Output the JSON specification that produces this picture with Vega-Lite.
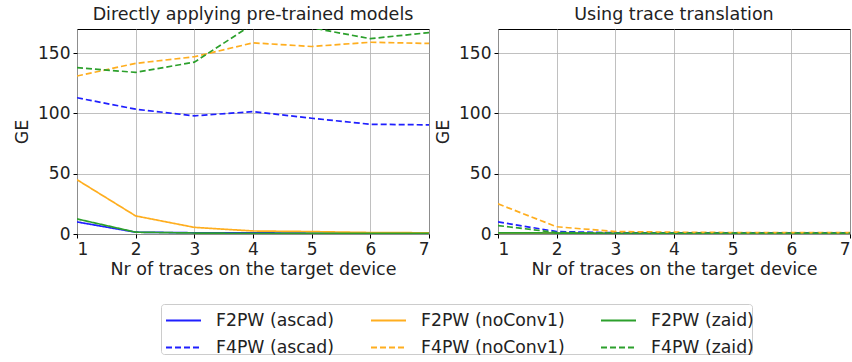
{
  "$schema": "https://vega.github.io/schema/vega-lite/v6.json",
  "padding": {"left": 13, "top": 5, "right": 0, "bottom": 0},
  "data": {"values": [
    {"panel": "A", "series": "F2PW (ascad)", "x": 1, "ge": 10},
    {"panel": "A", "series": "F2PW (ascad)", "x": 2, "ge": 1.5},
    {"panel": "A", "series": "F2PW (ascad)", "x": 3, "ge": 1},
    {"panel": "A", "series": "F2PW (ascad)", "x": 4, "ge": 1},
    {"panel": "A", "series": "F2PW (ascad)", "x": 5, "ge": 0.6},
    {"panel": "A", "series": "F2PW (ascad)", "x": 6, "ge": 0.5},
    {"panel": "A", "series": "F2PW (ascad)", "x": 7, "ge": 0.5},
    {"panel": "A", "series": "F2PW (noConv1)", "x": 1, "ge": 45},
    {"panel": "A", "series": "F2PW (noConv1)", "x": 2, "ge": 15},
    {"panel": "A", "series": "F2PW (noConv1)", "x": 3, "ge": 5.5},
    {"panel": "A", "series": "F2PW (noConv1)", "x": 4, "ge": 2.5},
    {"panel": "A", "series": "F2PW (noConv1)", "x": 5, "ge": 2},
    {"panel": "A", "series": "F2PW (noConv1)", "x": 6, "ge": 1.2},
    {"panel": "A", "series": "F2PW (noConv1)", "x": 7, "ge": 1},
    {"panel": "A", "series": "F2PW (zaid)", "x": 1, "ge": 12.5},
    {"panel": "A", "series": "F2PW (zaid)", "x": 2, "ge": 1.5},
    {"panel": "A", "series": "F2PW (zaid)", "x": 3, "ge": 0.8},
    {"panel": "A", "series": "F2PW (zaid)", "x": 4, "ge": 0.5},
    {"panel": "A", "series": "F2PW (zaid)", "x": 5, "ge": 0.5},
    {"panel": "A", "series": "F2PW (zaid)", "x": 6, "ge": 0.5},
    {"panel": "A", "series": "F2PW (zaid)", "x": 7, "ge": 0.5},
    {"panel": "A", "series": "F4PW (ascad)", "x": 1, "ge": 113},
    {"panel": "A", "series": "F4PW (ascad)", "x": 2, "ge": 103.5},
    {"panel": "A", "series": "F4PW (ascad)", "x": 3, "ge": 98},
    {"panel": "A", "series": "F4PW (ascad)", "x": 4, "ge": 101.5},
    {"panel": "A", "series": "F4PW (ascad)", "x": 5, "ge": 96},
    {"panel": "A", "series": "F4PW (ascad)", "x": 6, "ge": 91},
    {"panel": "A", "series": "F4PW (ascad)", "x": 7, "ge": 90.5},
    {"panel": "A", "series": "F4PW (noConv1)", "x": 1, "ge": 131},
    {"panel": "A", "series": "F4PW (noConv1)", "x": 2, "ge": 141.5},
    {"panel": "A", "series": "F4PW (noConv1)", "x": 3, "ge": 147},
    {"panel": "A", "series": "F4PW (noConv1)", "x": 4, "ge": 158.5},
    {"panel": "A", "series": "F4PW (noConv1)", "x": 5, "ge": 155.5},
    {"panel": "A", "series": "F4PW (noConv1)", "x": 6, "ge": 159},
    {"panel": "A", "series": "F4PW (noConv1)", "x": 7, "ge": 158},
    {"panel": "A", "series": "F4PW (zaid)", "x": 1, "ge": 138},
    {"panel": "A", "series": "F4PW (zaid)", "x": 2, "ge": 134},
    {"panel": "A", "series": "F4PW (zaid)", "x": 3, "ge": 142.5},
    {"panel": "A", "series": "F4PW (zaid)", "x": 4, "ge": 174},
    {"panel": "A", "series": "F4PW (zaid)", "x": 5, "ge": 171},
    {"panel": "A", "series": "F4PW (zaid)", "x": 6, "ge": 162},
    {"panel": "A", "series": "F4PW (zaid)", "x": 7, "ge": 167},
    {"panel": "B", "series": "F2PW (ascad)", "x": 1, "ge": 1},
    {"panel": "B", "series": "F2PW (ascad)", "x": 2, "ge": 0.8},
    {"panel": "B", "series": "F2PW (ascad)", "x": 3, "ge": 0.5},
    {"panel": "B", "series": "F2PW (ascad)", "x": 4, "ge": 0.5},
    {"panel": "B", "series": "F2PW (ascad)", "x": 5, "ge": 0.5},
    {"panel": "B", "series": "F2PW (ascad)", "x": 6, "ge": 0.5},
    {"panel": "B", "series": "F2PW (ascad)", "x": 7, "ge": 0.5},
    {"panel": "B", "series": "F2PW (noConv1)", "x": 1, "ge": 1},
    {"panel": "B", "series": "F2PW (noConv1)", "x": 2, "ge": 0.8},
    {"panel": "B", "series": "F2PW (noConv1)", "x": 3, "ge": 0.5},
    {"panel": "B", "series": "F2PW (noConv1)", "x": 4, "ge": 0.5},
    {"panel": "B", "series": "F2PW (noConv1)", "x": 5, "ge": 0.5},
    {"panel": "B", "series": "F2PW (noConv1)", "x": 6, "ge": 0.5},
    {"panel": "B", "series": "F2PW (noConv1)", "x": 7, "ge": 0.5},
    {"panel": "B", "series": "F2PW (zaid)", "x": 1, "ge": 1},
    {"panel": "B", "series": "F2PW (zaid)", "x": 2, "ge": 0.8},
    {"panel": "B", "series": "F2PW (zaid)", "x": 3, "ge": 0.5},
    {"panel": "B", "series": "F2PW (zaid)", "x": 4, "ge": 0.5},
    {"panel": "B", "series": "F2PW (zaid)", "x": 5, "ge": 0.5},
    {"panel": "B", "series": "F2PW (zaid)", "x": 6, "ge": 0.5},
    {"panel": "B", "series": "F2PW (zaid)", "x": 7, "ge": 0.5},
    {"panel": "B", "series": "F4PW (ascad)", "x": 1, "ge": 10},
    {"panel": "B", "series": "F4PW (ascad)", "x": 2, "ge": 2},
    {"panel": "B", "series": "F4PW (ascad)", "x": 3, "ge": 1},
    {"panel": "B", "series": "F4PW (ascad)", "x": 4, "ge": 1},
    {"panel": "B", "series": "F4PW (ascad)", "x": 5, "ge": 1},
    {"panel": "B", "series": "F4PW (ascad)", "x": 6, "ge": 1},
    {"panel": "B", "series": "F4PW (ascad)", "x": 7, "ge": 1},
    {"panel": "B", "series": "F4PW (noConv1)", "x": 1, "ge": 25},
    {"panel": "B", "series": "F4PW (noConv1)", "x": 2, "ge": 6},
    {"panel": "B", "series": "F4PW (noConv1)", "x": 3, "ge": 2},
    {"panel": "B", "series": "F4PW (noConv1)", "x": 4, "ge": 1.5},
    {"panel": "B", "series": "F4PW (noConv1)", "x": 5, "ge": 1.2},
    {"panel": "B", "series": "F4PW (noConv1)", "x": 6, "ge": 1.2},
    {"panel": "B", "series": "F4PW (noConv1)", "x": 7, "ge": 1.2},
    {"panel": "B", "series": "F4PW (zaid)", "x": 1, "ge": 7},
    {"panel": "B", "series": "F4PW (zaid)", "x": 2, "ge": 1.2},
    {"panel": "B", "series": "F4PW (zaid)", "x": 3, "ge": 0.8},
    {"panel": "B", "series": "F4PW (zaid)", "x": 4, "ge": 0.8},
    {"panel": "B", "series": "F4PW (zaid)", "x": 5, "ge": 0.8},
    {"panel": "B", "series": "F4PW (zaid)", "x": 6, "ge": 0.8},
    {"panel": "B", "series": "F4PW (zaid)", "x": 7, "ge": 0.8}
  ]},
  "config": {
    "font": "DejaVu Sans",
    "view": {"stroke": "#000000", "strokeWidth": 1},
    "axis": {
      "gridColor": "#b0b0b0", "gridOpacity": 0.8, "gridWidth": 1,
      "domain": false, "tickColor": "#000000", "tickSize": 4
    },
    "concat": {"spacing": 4}
  },
  "resolve": {"scale": {"color": "shared", "strokeDash": "shared"}},
  "hconcat": [
    {
      "title": {"text": "Directly applying pre-trained models", "font": "DejaVu Sans", "fontSize": 17.5, "fontWeight": "normal", "color": "#222222", "offset": 6},
      "width": 352, "height": 205,
      "transform": [{"filter": "datum.panel === 'A'"}],
      "mark": {"type": "line", "clip": true, "strokeWidth": 1.7},
      "encoding": {
        "x": {"field": "x", "type": "quantitative", "scale": {"domain": [1, 7], "nice": false}, "axis": {"values": [1,2,3,4,5,6,7], "title": "Nr of traces on the target device", "titlePadding": 3, "labelPadding": 3, "labelFont": "DejaVu Sans", "labelFontSize": 17, "labelColor": "#222222", "titleFont": "DejaVu Sans", "titleFontSize": 17.5, "titleFontWeight": "normal", "titleColor": "#222222"}},
        "y": {"field": "ge", "type": "quantitative", "scale": {"domain": [0, 170], "nice": false}, "axis": {"values": [0,50,100,150], "title": "GE", "titlePadding": 6, "labelPadding": 3, "labelFont": "DejaVu Sans", "labelFontSize": 17, "labelColor": "#222222", "titleFont": "DejaVu Sans", "titleFontSize": 17.5, "titleFontWeight": "normal", "titleColor": "#222222"}},
        "color": {"field": "series", "type": "nominal", "scale": {"domain": ["F2PW (ascad)", "F2PW (noConv1)", "F2PW (zaid)", "F4PW (ascad)", "F4PW (noConv1)", "F4PW (zaid)"], "range": ["#1f1fff", "#ffae1f", "#2ca02c", "#1f1fff", "#ffae1f", "#2ca02c"]}, "legend": {"orient": "none", "legendX": 84, "legendY": 275, "columns": 3, "direction": "horizontal", "title": null, "symbolType": "stroke", "symbolSize": 1225, "symbolStrokeWidth": 2, "symbolOffset": 6, "labelFontSize": 17.3, "labelFont": "DejaVu Sans", "labelColor": "#222222", "columnPadding": 29, "rowPadding": -8, "labelOffset": 14, "padding": -2, "strokeColor": "#cccccc", "cornerRadius": 3}},
        "strokeDash": {"field": "series", "type": "nominal", "scale": {"domain": ["F2PW (ascad)", "F2PW (noConv1)", "F2PW (zaid)", "F4PW (ascad)", "F4PW (noConv1)", "F4PW (zaid)"], "range": [[1,0],[1,0],[1,0],[6,3],[6,3],[6,3]]}}
      }
    },
    {
      "title": {"text": "Using trace translation", "font": "DejaVu Sans", "fontSize": 17.5, "fontWeight": "normal", "color": "#222222", "offset": 6},
      "width": 352, "height": 205,
      "transform": [{"filter": "datum.panel === 'B'"}],
      "mark": {"type": "line", "clip": true, "strokeWidth": 1.7},
      "encoding": {
        "x": {"field": "x", "type": "quantitative", "scale": {"domain": [1, 7], "nice": false}, "axis": {"values": [1,2,3,4,5,6,7], "title": "Nr of traces on the target device", "titlePadding": 3, "labelPadding": 3, "labelFont": "DejaVu Sans", "labelFontSize": 17, "labelColor": "#222222", "titleFont": "DejaVu Sans", "titleFontSize": 17.5, "titleFontWeight": "normal", "titleColor": "#222222"}},
        "y": {"field": "ge", "type": "quantitative", "scale": {"domain": [0, 170], "nice": false}, "axis": {"values": [0,50,100,150], "title": "GE", "titlePadding": 6, "labelPadding": 3, "labelFont": "DejaVu Sans", "labelFontSize": 17, "labelColor": "#222222", "titleFont": "DejaVu Sans", "titleFontSize": 17.5, "titleFontWeight": "normal", "titleColor": "#222222"}},
        "color": {"field": "series", "type": "nominal"},
        "strokeDash": {"field": "series", "type": "nominal"}
      }
    }
  ]
}
